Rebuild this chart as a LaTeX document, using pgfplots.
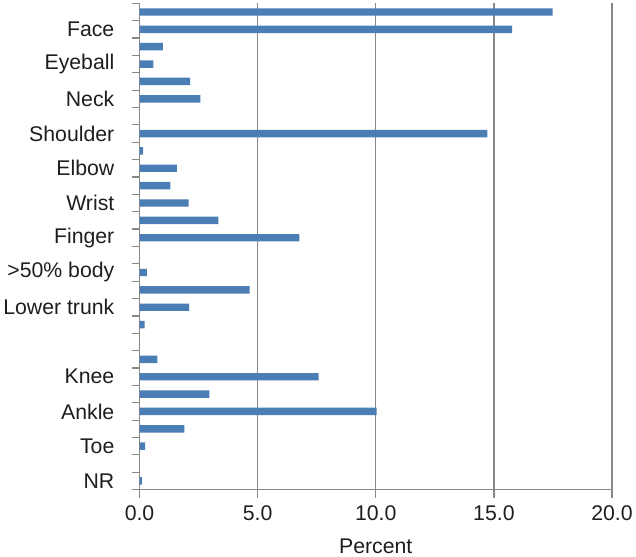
\documentclass[border=0pt]{standalone}
\usepackage{fontspec}
\setmainfont{Liberation Sans}
\usepackage{pgfplots}
\pgfplotsset{compat=1.18}
\definecolor{barra}{RGB}{74,126,180}
\definecolor{gris}{RGB}{135,135,135}
\definecolor{texto}{RGB}{30,30,30}

\begin{document}
\begin{tikzpicture}[font=\fontsize{21.5bp}{26bp}\selectfont, text=texto]
\begin{axis}[
  scale only axis, width=478bp, height=492bp,
  xbar, bar width=7.5bp,
  xmin=0, xmax=20, ymin=0.5, ymax=28.5, y dir=reverse,
  axis lines*=left, axis line style={gris, line width=1.2bp, -},
  tick style={gris, line width=1.2bp}, tick align=outside,
  major tick length=8bp,
  xtick={0,5,10,15,20},
  xticklabel style={yshift=-5bp, /pgf/number format/fixed, /pgf/number format/fixed zerofill,
    /pgf/number format/precision=1},
  /pgf/number format/assume math mode=true,
  xmajorgrids, grid style={gris, line width=1.2bp},
  ytick={0.5,1.5,...,28.5}, yticklabels={},
  extra y ticks={2,4,...,28},
  extra y tick labels={Face,Eyeball,Neck,Shoulder,Elbow,Wrist,Finger,{>50\% body},Lower trunk,{},Knee,Ankle,Toe,NR},
  extra y tick style={major tick length=0pt, yticklabel style={xshift=-22bp}},
  xlabel={Percent}, xlabel style={yshift=-11bp},
]
% slots 7, 15, 20 and 27 hold no bar
\addplot[fill=barra, draw=none] coordinates {
  (17.49,1) (15.77,2) (0.99,3) (0.59,4) (2.14,5) (2.58,6)
  (14.72,8) (0.15,9) (1.58,10) (1.30,11) (2.08,12) (3.34,13) (6.77,14)
  (0.31,16) (4.66,17) (2.10,18) (0.22,19)
  (0.75,21) (7.58,22) (2.96,23) (10.03,24) (1.90,25) (0.24,26) (0.10,28)
};
\end{axis}
\end{tikzpicture}
\end{document}
